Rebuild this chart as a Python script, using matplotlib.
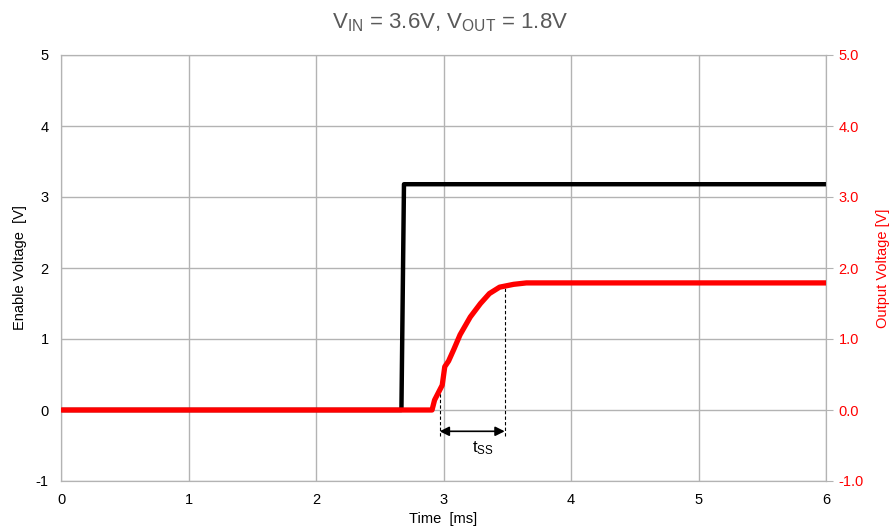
import matplotlib.pyplot as plt

plt.rcParams['font.family'] = ['Liberation Sans', 'DejaVu Sans']
plt.rcParams['mathtext.default'] = 'regular'
plt.rcParams['axes.unicode_minus'] = False

# enable signal (left axis)
en_t = [0.0, 2.67, 2.69, 6.0]
en_v = [0.0, 0.0, 3.18, 3.18]

# output voltage (right axis)
out_t = [0.0, 2.91, 2.93, 2.99, 3.01, 3.04, 3.08, 3.13, 3.21, 3.29, 3.36,
         3.44, 3.55, 3.65, 3.80, 6.0]
out_v = [0.0, 0.0, 0.14, 0.35, 0.61, 0.69, 0.85, 1.06, 1.31, 1.50, 1.64,
         1.73, 1.77, 1.79, 1.79, 1.79]

tss_start, tss_end = 2.97, 3.48
x_ticks = [0, 1, 2, 3, 4, 5, 6]
y_ticks = [-1, 0, 1, 2, 3, 4, 5]

grid_c = '#b3b3b3'
red = '#ff0000'

fig = plt.figure(figsize=(8.9, 5.32), dpi=100)
ax = fig.add_axes([61 / 890, 1 - 481 / 532, 765 / 890, 426 / 532])
ax2 = ax.twinx()

ax.set_xlim(0, 6)
ax.set_ylim(-1, 5)
ax2.set_ylim(-1, 5)
ax.set_xticks(x_ticks)
ax.set_yticks(y_ticks)
ax2.set_yticks(y_ticks)
ax2.set_yticklabels([f'{v:.1f}' for v in y_ticks])

ax.grid(True, color=grid_c, linewidth=1)
for a in (ax, ax2):
    for s in a.spines.values():
        s.set_color(grid_c)
ax.tick_params(axis='both', labelsize=10.5, length=0, pad=9)
ax2.tick_params(axis='y', labelsize=10.5, labelcolor=red, color=grid_c,
                length=5, pad=4)

ax.plot(en_t, en_v, color='black', linewidth=3.2, zorder=3)
ax2.plot(out_t, out_v, color=red, linewidth=3.8, zorder=3,
         solid_joinstyle='round')

# soft-start annotation
ax2.plot([tss_start, tss_start], [-0.37, 0.30], color='black', linestyle='--',
         linewidth=0.8, dashes=(3, 2))
ax2.plot([tss_end, tss_end], [-0.37, 1.74], color='black', linestyle='--',
         linewidth=0.8, dashes=(3, 2))
ax2.annotate('', xy=(tss_start, -0.30), xytext=(tss_end, -0.30),
             arrowprops=dict(arrowstyle='<|-|>', color='black', lw=1.2,
                             shrinkA=0, shrinkB=0, mutation_scale=14))
ax2.text(3.31, -0.54, r'$t_{SS}$', fontsize=12, ha='center', va='center')

ax.set_xlabel('Time  [ms]', fontsize=10.5, labelpad=3)
ax.set_ylabel('Enable Voltage  [V]', fontsize=10.5, labelpad=6)
ax2.set_ylabel('Output Voltage [V]', fontsize=10.5, color=red, labelpad=9)
fig.text(0.506, 0.958, r'$V_{IN}$ = 3.6V, $V_{OUT}$ = 1.8V', fontsize=16,
         color='#595959', ha='center', va='center')

fig.savefig('out.png', dpi=100)
